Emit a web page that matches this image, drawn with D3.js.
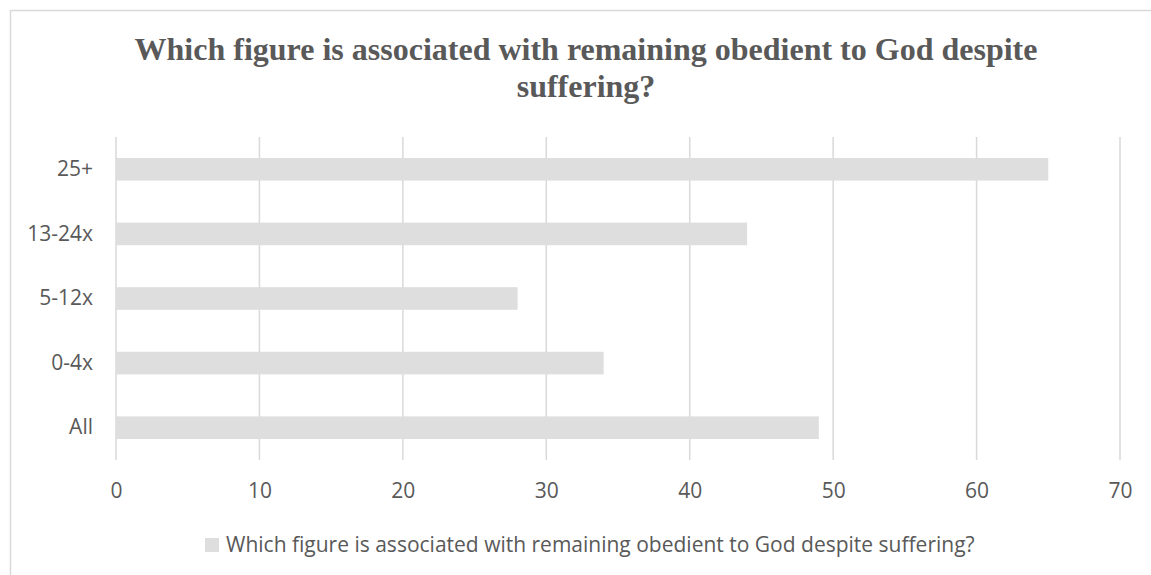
<!DOCTYPE html>
<html>
<head>
<meta charset="utf-8">
<script src="https://cdn.jsdelivr.net/npm/d3@7"></script>
<style>
  html, body { margin: 0; padding: 0; background: #fff; }
  svg { display: block; }
</style>
</head>
<body>
<div id="chart"></div>
<script>
// data
const categories = ['25+', '13-24x', '5-12x', '0-4x', 'All'];
const values = [65, 44, 28, 34, 49];
const xTicks = [0, 10, 20, 30, 40, 50, 60, 70];
const titleLines = ['Which figure is associated with remaining obedient to God despite', 'suffering?'];
const seriesName = 'Which figure is associated with remaining obedient to God despite suffering?';

const W = 1151, H = 575;
const margin = { top: 137, right: 31, bottom: 115, left: 116 };
const width = W - margin.left - margin.right;
const height = H - margin.top - margin.bottom;

const svg = d3.select('#chart').append('svg')
  .attr('width', W).attr('height', H);

// outer chart border (runs off the right/bottom edge in the reference)
svg.append('rect')
  .attr('x', 10.5).attr('y', 10.5)
  .attr('width', 1200).attr('height', 700)
  .attr('fill', '#fff').attr('stroke', '#d9d9d9').attr('stroke-width', 1.5);

// title
const title = svg.append('text')
  .attr('text-anchor', 'middle')
  .style('font-family', '"Liberation Serif", "Times New Roman", serif')
  .style('font-weight', 'bold')
  .style('font-size', '32px')
  .attr('fill', '#595959');
titleLines.forEach((t, i) => {
  title.append('tspan').attr('x', 586).attr('y', 60 + i * 36.5).text(t);
});

const g = svg.append('g').attr('transform', `translate(${margin.left},${margin.top})`);

const x = d3.scaleLinear().domain([0, 70]).range([0, width]);
const y = d3.scaleBand().domain(categories).range([0, height])
  .paddingInner(0.65).paddingOuter(0.325);

// gridlines
g.append('g').selectAll('line')
  .data(xTicks)
  .join('line')
  .attr('x1', d => x(d)).attr('x2', d => x(d))
  .attr('y1', 0).attr('y2', height)
  .attr('stroke', '#d9d9d9').attr('stroke-width', 1.5);

// bars
g.append('g').selectAll('rect')
  .data(categories.map((c, i) => ({ cat: c, v: values[i] })))
  .join('rect')
  .attr('x', x(0))
  .attr('y', d => y(d.cat))
  .attr('width', d => x(d.v) - x(0))
  .attr('height', y.bandwidth())
  .attr('fill', '#dedede');

const axisFont = sel => sel.selectAll('text')
  .style('font-family', '"Open Sans", sans-serif')
  .style('font-size', '21px')
  .attr('fill', '#595959');

const xAxis = g.append('g')
  .attr('transform', `translate(0,${height})`)
  .call(d3.axisBottom(x).tickValues(xTicks).tickSize(0).tickPadding(23));
xAxis.select('.domain').remove();
axisFont(xAxis);

const yAxis = g.append('g')
  .call(d3.axisLeft(y).tickSize(0).tickPadding(23));
yAxis.select('.domain').remove();
axisFont(yAxis);

// legend
const legend = svg.append('g').attr('transform', 'translate(205,538)');
legend.append('rect').attr('width', 14).attr('height', 14).attr('fill', '#dedede');
legend.append('text')
  .attr('x', 21).attr('y', 7).attr('dy', '0.35em')
  .style('font-family', '"Open Sans", sans-serif')
  .style('font-size', '21px')
  .attr('fill', '#595959')
  .text(seriesName);
</script>
</body>
</html>
